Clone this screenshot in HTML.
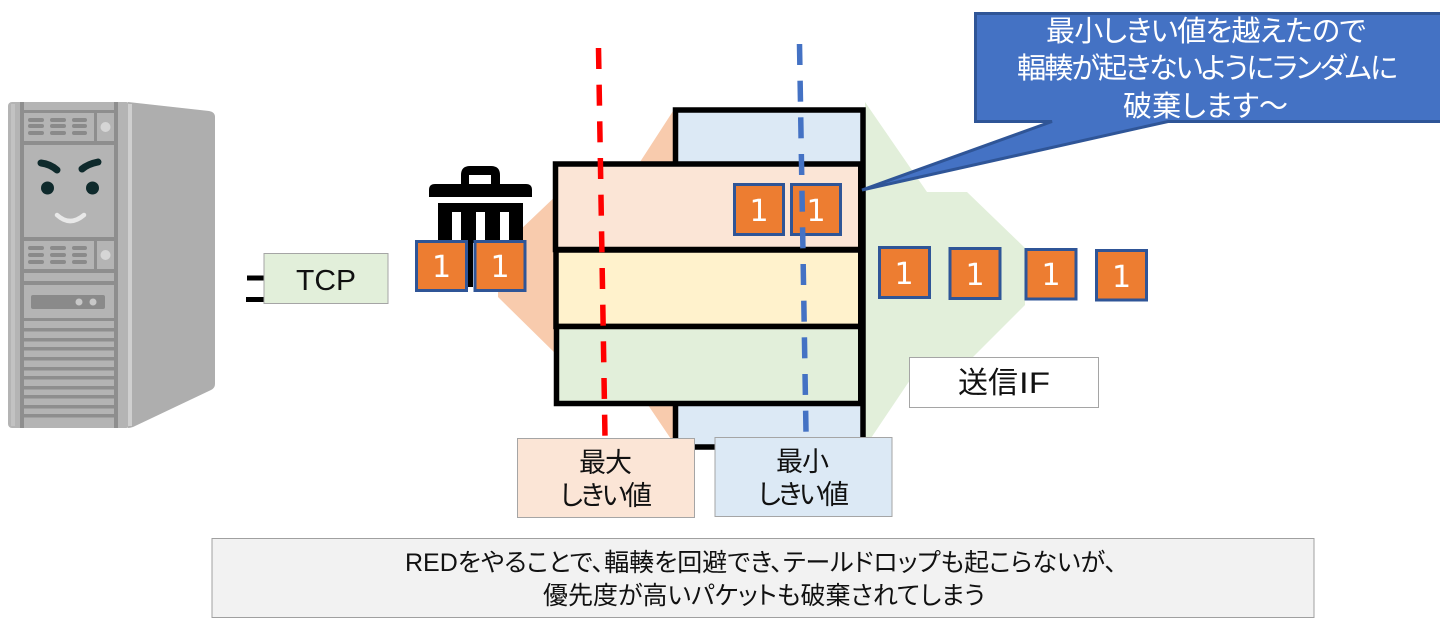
<!DOCTYPE html>
<html lang="ja">
<head>
<meta charset="utf-8">
<style>
html,body{margin:0;padding:0;background:#fff;width:1440px;height:628px;overflow:hidden}
svg{display:block}
text{font-family:"Liberation Sans","Noto Sans CJK JP",sans-serif;font-feature-settings:"palt";fill:#111}
.one{font-family:"DejaVu Sans",sans-serif;font-size:30px;fill:#fff;text-anchor:middle;font-feature-settings:normal}
.b{fill:#ed7d31;stroke:#2f5597;stroke-width:3}
.w{fill:#fff}
</style>
</head>
<body>
<svg width="1440" height="628" viewBox="0 0 1440 628" xmlns="http://www.w3.org/2000/svg">
<rect width="1440" height="628" fill="#fff"/>

<!-- server -->
<g>
<path d="M128 102 L209 111 Q215 112 215 117 L215 384 Q215 388 211 390 L133 427 Q130 428 128 428 Z" fill="#aeaeae"/>
<rect x="8" y="102" width="122" height="326" rx="4" fill="#b4b4b4"/>
<rect x="11" y="104" width="4" height="322" fill="#c2c2c2"/>
<rect x="128" y="104" width="4" height="322" fill="#cfcfcf"/>
<rect x="20" y="102" width="4" height="326" fill="#8e8e8e"/>
<rect x="114" y="102" width="4" height="326" fill="#8e8e8e"/>
<g fill="#8e8e8e">
<rect x="22" y="110" width="94" height="3"/>
<rect x="22" y="141" width="94" height="4"/>
<rect x="22" y="237" width="94" height="4"/>
<rect x="22" y="269" width="94" height="4"/>
<rect x="22" y="281" width="94" height="4"/>
<rect x="22" y="318" width="94" height="3"/>
<rect x="94" y="112" width="3" height="30"/>
<rect x="94" y="241" width="3" height="29"/>
<rect x="24" y="328" width="90" height="3.500"/>
<rect x="24" y="338" width="90" height="3.500"/>
<rect x="24" y="347" width="90" height="3.500"/>
<rect x="24" y="357" width="90" height="3.500"/>
<rect x="24" y="367" width="90" height="3.500"/>
<rect x="24" y="376" width="90" height="3.500"/>
<rect x="24" y="386" width="90" height="3.500"/>
<rect x="24" y="395" width="90" height="3.500"/>
<rect x="24" y="405" width="90" height="3.500"/>
<rect x="24" y="414" width="90" height="3.500"/>
</g>
<g fill="#8a8a8a">
<rect x="28" y="118" width="16" height="4" rx="2"/><rect x="50" y="118" width="16" height="4" rx="2"/><rect x="72" y="118" width="15" height="4" rx="2"/>
<rect x="28" y="124" width="16" height="4" rx="2"/><rect x="50" y="124" width="16" height="4" rx="2"/><rect x="72" y="124" width="15" height="4" rx="2"/>
<rect x="28" y="131" width="16" height="4" rx="2"/><rect x="50" y="131" width="16" height="4" rx="2"/><rect x="72" y="131" width="15" height="4" rx="2"/>
<rect x="28" y="246" width="16" height="4" rx="2"/><rect x="50" y="246" width="16" height="4" rx="2"/><rect x="72" y="246" width="15" height="4" rx="2"/>
<rect x="28" y="253" width="16" height="4" rx="2"/><rect x="50" y="253" width="16" height="4" rx="2"/><rect x="72" y="253" width="15" height="4" rx="2"/>
<rect x="28" y="260" width="16" height="4" rx="2"/><rect x="50" y="260" width="16" height="4" rx="2"/><rect x="72" y="260" width="15" height="4" rx="2"/>
<rect x="31" y="295" width="74" height="14" rx="2"/>
</g>
<circle cx="105.500" cy="127" r="5" fill="#d6d6d6"/>
<circle cx="105.500" cy="255" r="5" fill="#d6d6d6"/>
<circle cx="79" cy="302" r="3.500" fill="#c8c8c8"/>
<circle cx="93" cy="302" r="3.500" fill="#c8c8c8"/>
<path d="M41 163 Q50 164 57 170" fill="none" stroke="#0f2a2c" stroke-width="7" stroke-linecap="round"/>
<path d="M82 169 Q88 164 98 162" fill="none" stroke="#0f2a2c" stroke-width="7" stroke-linecap="round"/>
<circle cx="47.500" cy="188" r="6.500" fill="#0f2a2c"/>
<circle cx="92.500" cy="188" r="6.500" fill="#0f2a2c"/>
<path d="M57 215 Q70 227 84 215" fill="none" stroke="#e8e8e8" stroke-width="4.500" stroke-linecap="round"/>
</g>

<!-- plug + TCP -->
<rect x="247" y="275.500" width="18" height="5" fill="#000"/>
<rect x="246" y="297" width="19" height="5" fill="#000"/>
<rect x="264" y="253.500" width="124" height="50" fill="#e2efda" stroke="#a5a5a5" stroke-width="1"/>
<text x="296" y="290" font-size="29" textLength="60" lengthAdjust="spacingAndGlyphs">TCP</text>

<!-- background arrows -->
<polygon points="675,108 640,162 560,192 498,251 498,297 560,358 648,405 675,445" fill="#f8cbad"/>
<polygon points="865,102 927,192 967,192 1025,248 1025,305 970,360 925,360 908,383 865,447" fill="#e2efda"/>

<!-- trash icon -->
<g fill="#000">
<path d="M461 184 V175 Q461 166 470 166 H491 Q500 166 500 175 V184 H491 V175 H469 V184 Z"/>
<path d="M429 197 V190 Q429 184 435 184 H526 Q532 184 532 190 V197 Z"/>
<rect x="438" y="203" width="85" height="40"/>
<rect x="461" y="240" width="12" height="47"/>
</g>
<rect class="w" x="452" y="212" width="9" height="30"/>
<rect class="w" x="476" y="212" width="9" height="30"/>
<rect class="w" x="500" y="212" width="9" height="30"/>

<rect class="b" x="416.500" y="241.500" width="50" height="49"/>
<text class="one" x="441.500" y="277">1</text>
<rect class="b" x="475" y="241.500" width="50" height="49"/>
<text class="one" x="500" y="277">1</text>

<!-- queues -->
<rect x="675.500" y="110" width="187.500" height="337" fill="#dce9f5" stroke="#000" stroke-width="5.500"/>
<rect x="555.500" y="164" width="305.500" height="85.500" fill="#fbe5d6" stroke="#000" stroke-width="5.500"/>
<rect x="556" y="250" width="305" height="76.500" fill="#fff2cc" stroke="#000" stroke-width="5.500"/>
<rect x="556.500" y="326.500" width="304.500" height="77" fill="#e2efda" stroke="#000" stroke-width="5.500"/>
<rect x="858" y="164" width="6" height="240" fill="#000"/>

<!-- packets in queue -->
<rect class="b" x="734.500" y="184.500" width="49" height="50"/>
<text class="one" x="759" y="221">1</text>
<rect class="b" x="791.500" y="184.500" width="49" height="50"/>
<text class="one" x="816" y="221">1</text>

<!-- outgoing packets -->
<rect class="b" x="879.500" y="247.500" width="50" height="50"/>
<text class="one" x="904" y="284">1</text>
<rect class="b" x="950" y="248.500" width="50" height="50"/>
<text class="one" x="975" y="285">1</text>
<rect class="b" x="1026" y="249.500" width="50" height="49.500"/>
<text class="one" x="1051" y="285">1</text>
<rect class="b" x="1096.500" y="250.500" width="50" height="49.500"/>
<text class="one" x="1121.500" y="287">1</text>

<!-- threshold lines -->
<line x1="598.500" y1="48" x2="605" y2="437" stroke="#ff0000" stroke-width="5.500" stroke-dasharray="21 15.670"/>
<line x1="799.500" y1="44" x2="806" y2="432" stroke="#4472c4" stroke-width="5.500" stroke-dasharray="21 15.670"/>

<!-- callout -->
<path d="M975.500 13.500 H1445 V121.500 H1168 L862 190 L1052 121.500 H975.500 Z" fill="#4472c4" stroke="#2f5597" stroke-width="3"/>
<text x="1046" y="41" font-size="29" textLength="320" style="fill:#fff">最小しきい値を越えたので</text>
<text x="1017" y="78" font-size="29" textLength="381" style="fill:#fff">輻輳が起きないようにランダムに</text>
<text x="1123" y="116" font-size="29" textLength="165" style="fill:#fff">破棄します～</text>

<!-- labels -->
<rect x="909.500" y="357.500" width="189" height="50" fill="#fff" stroke="#a5a5a5" stroke-width="1"/>
<text x="958" y="393" font-size="30">送信</text>
<text x="1019" y="393" font-size="30" textLength="31" lengthAdjust="spacingAndGlyphs">IF</text>

<rect x="517.500" y="438.500" width="177" height="79" fill="#fbe5d6" stroke="#a5a5a5" stroke-width="1"/>
<text x="579" y="472" font-size="27" textLength="53">最大</text>
<text x="560" y="505" font-size="27" textLength="92">しきい値</text>

<rect x="715" y="437.500" width="177" height="79" fill="#dce9f5" stroke="#a5a5a5" stroke-width="1"/>
<text x="776" y="471" font-size="27" textLength="53">最小</text>
<text x="758" y="504" font-size="27" textLength="91">しきい値</text>

<rect x="212" y="538.500" width="1102" height="79" fill="#f2f2f2" stroke="#a0a0a0" stroke-width="1"/>
<text x="405" y="571" font-size="25" textLength="712">REDをやることで、輻輳を回避でき、テールドロップも起こらないが、</text>
<text x="543" y="604" font-size="25" textLength="442">優先度が高いパケットも破棄されてしまう</text>
</svg>
</body>
</html>
